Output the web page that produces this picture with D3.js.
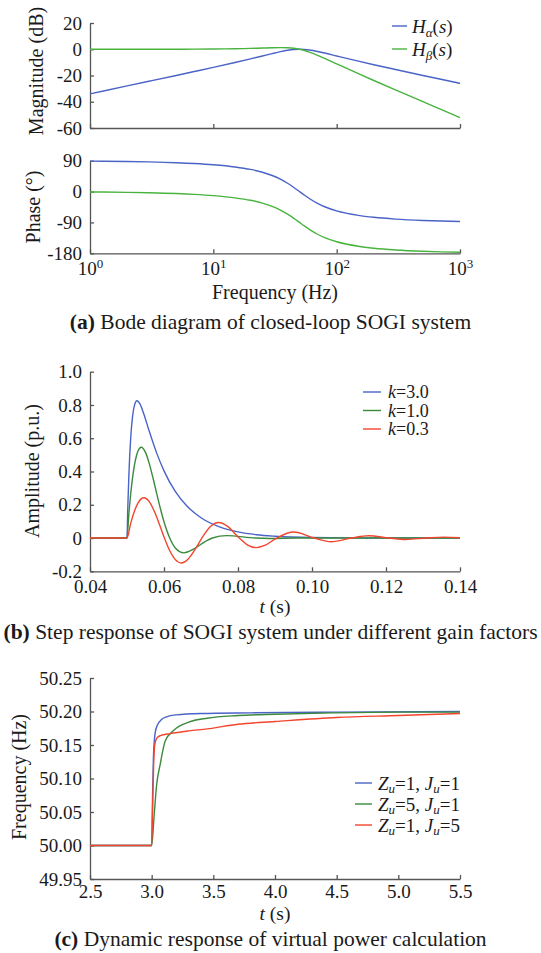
<!DOCTYPE html>
<html><head><meta charset="utf-8">
<script src="https://cdn.jsdelivr.net/npm/d3@7"></script>
<style>
body{margin:0;background:#fff}
#chart, #chart text{font-family:"Liberation Serif","Tinos","Nimbus Roman","Times New Roman","DejaVu Serif",serif;fill:#1a1a1a}
</style>
</head><body>
<svg id="chart" width="541" height="953"></svg>
<script>
// ---------- (a) Bode data ----------
const bodeFreq = [1,2,3,5,7,10,15,20,25,30,35,40,45,50,55,60,70,80,100,150,200,300,500,700,1000];
const magAlpha = [-33.98,-27.95,-24.42,-19.96,-16.99,-13.81,-10.09,-7.33,-5.12,-3.30,-1.85,-0.80,-0.19,0,-0.16,-0.55,-1.67,-2.90,-5.12,-9.09,-11.78,-15.44,-19.96,-22.90,-26.01];
const magBeta = [0.00,0.01,0.02,0.04,0.08,0.17,0.37,0.63,0.90,1.14,1.25,1.14,0.73,0,-0.98,-2.13,-4.60,-6.99,-11.14,-18.63,-23.82,-31.01,-39.96,-45.82,-52.03];
const phaseAlpha = [88.85,87.71,86.55,84.23,81.87,78.23,71.75,64.54,56.31,46.85,36.08,24.23,11.92,0,-10.81,-20.14,-34.44,-44.27,-56.31,-69.44,-75.07,-80.27,-84.23,-85.89,-87.13];
const phaseBeta = [-1.15,-2.29,-3.45,-5.77,-8.13,-11.77,-18.25,-25.46,-33.69,-43.15,-53.92,-65.77,-78.08,-90,-100.81,-110.14,-124.44,-134.27,-146.31,-159.44,-165.07,-170.27,-174.23,-175.89,-177.13];
const magTicks = [20,0,-20,-40,-60];
const magTickLabels = ["20","0","-20","-40","-60"];
const phaseTicks = [90,0,-90,-180];
const phaseTickLabels = ["90","0","-90","-180"];
const bodeXTicks = [1,10,100,1000];
const bodeXExp = ["0","1","2","3"];

// ---------- (b) step response data ----------
const tK30 = [0.04,0.05,0.0502,0.0505,0.051,0.0515,0.052,0.0527,0.0535,0.0545,0.056,0.058,0.060,0.063,0.066,0.070,0.075,0.080,0.085,0.090,0.100,0.110,0.120,0.140];
const yK30 = [0,0,0.172,0.374,0.601,0.730,0.796,0.825,0.806,0.749,0.643,0.512,0.404,0.282,0.197,0.122,0.067,0.037,0.020,0.011,0.003,0.001,0,0];
const tK10 = [0.04,0.05,0.0505,0.051,0.0515,0.052,0.0525,0.053,0.05385,0.055,0.056,0.057,0.058,0.059,0.060,0.06155,0.063,0.0654,0.068,0.071,0.07309,0.07694,0.08464,0.08849,0.0962,0.14];
const yK10 = [0,0,0.145,0.265,0.362,0.437,0.490,0.525,0.546,0.515,0.449,0.363,0.270,0.179,0.098,0,-0.058,-0.089,-0.067,-0.023,0,0.0145,0,-0.0024,0,0];
const tK03 = [0.04,0.05,0.051,0.052,0.053,0.05457,0.056,0.0575,0.059,0.06012,0.0615,0.063,0.06469,0.0665,0.0685,0.07023,0.0725,0.0748,0.077,0.08034,0.0825,0.08492,0.0872,0.09046,0.09503,0.1006,0.1052,0.1107,0.1153,0.1208,0.1254,0.1309,0.1355,0.14];
const yK03 = [0,0,0.0885,0.1607,0.2115,0.2419,0.2190,0.1547,0.0675,0,-0.0736,-0.1284,-0.1500,-0.1278,-0.0652,0,0.0681,0.0932,0.0732,0,-0.0407,-0.0579,-0.0446,0,0.0359,0,-0.0223,0,0.0138,0,-0.0086,0,0.0053,0.0014];
const stepYTicks = [1.0,0.8,0.6,0.4,0.2,0,-0.2];
const stepYLabels = ["1.0","0.8","0.6","0.4","0.2","0","-0.2"];
const stepXTicks = [0.04,0.06,0.08,0.10,0.12,0.14];
const stepXLabels = ["0.04","0.06","0.08","0.10","0.12","0.14"];

// ---------- (c) frequency response data ----------
const tZ1J1 = [2.5,3.0,3.008,3.016,3.03,3.05,3.08,3.12,3.2,3.4,3.8,4.5,5.5];
const fZ1J1 = [50.00,50.00,50.08,50.14,50.170,50.181,50.188,50.192,50.195,50.197,50.198,50.199,50.200];
const tZ5J1 = [2.5,3.0,3.02,3.04,3.07,3.11,3.18,3.3,3.45,3.7,4.0,4.5,5.0,5.5];
const fZ5J1 = [50.00,50.00,50.045,50.09,50.122,50.156,50.172,50.184,50.190,50.194,50.196,50.198,50.199,50.199];
const tZ1J5 = [2.5,3.0,3.008,3.016,3.025,3.04,3.07,3.15,3.3,3.45,3.7,4.0,4.5,5.0,5.5];
const fZ1J5 = [50.00,50.00,50.06,50.12,50.150,50.160,50.164,50.167,50.171,50.174,50.181,50.185,50.191,50.194,50.197];
const freqYTicks = [50.25,50.20,50.15,50.10,50.05,50.00,49.95];
const freqYLabels = ["50.25","50.20","50.15","50.10","50.05","50.00","49.95"];
const freqXTicks = [2.5,3.0,3.5,4.0,4.5,5.0,5.5];
const freqXLabels = ["2.5","3.0","3.5","4.0","4.5","5.0","5.5"];

// ---------- styling ----------
const FONT = "'Liberation Serif','Tinos','Nimbus Roman','Times New Roman','DejaVu Serif',serif";
const BLUE = "#4a63c6", GREEN_A = "#48b43e", GREEN = "#3b8a3b", RED = "#f2452e";
const AX = "#555";
const svg = d3.select("#chart").attr("font-family", FONT);
const X0 = 90, X1 = 460;

function styleAxis(g){
  g.attr("font-family", FONT);
  g.select(".domain").attr("stroke", AX).attr("stroke-width", 1.3);
  g.selectAll(".tick line").attr("stroke", AX).attr("stroke-width", 1.3);
  g.selectAll(".tick text").attr("font-size", 19).attr("fill", "#1a1a1a").attr("font-family", FONT);
}
function yAxis(y, vals, labels){
  const g = svg.append("g").attr("transform", `translate(${X0},0)`)
    .call(d3.axisLeft(y).tickValues(vals).tickFormat((d,i)=>labels[i])
      .tickSizeInner(-4).tickSizeOuter(0).tickPadding(8));
  styleAxis(g); return g;
}
function xAxis(x, yPos, vals, labels, pad){
  const g = svg.append("g").attr("transform", `translate(0,${yPos})`)
    .call(d3.axisBottom(x).tickValues(vals).tickFormat(labels ? (d,i)=>labels[i] : "")
      .tickSizeInner(-4).tickSizeOuter(0).tickPadding(pad || 8));
  styleAxis(g); return g;
}
function curve(xs, ys, x, y, color){
  const pts = xs.map((t,i)=>[x(t), y(ys[i])]);
  svg.append("path").datum(pts)
    .attr("d", d3.line().curve(d3.curveMonotoneX))
    .attr("fill","none").attr("stroke", color).attr("stroke-width", 1.4)
    .attr("stroke-linejoin","round");
}
function yTitle(txt, cx, cy){
  svg.append("text").attr("transform", `translate(${cx},${cy}) rotate(-90)`)
    .attr("text-anchor","middle").attr("font-size", 20).text(txt);
}
function legendLine(x1, x2, yy, color){
  svg.append("line").attr("x1", x1).attr("x2", x2).attr("y1", yy).attr("y2", yy)
    .attr("stroke", color).attr("stroke-width", 1.4);
}

// ---------- (a) magnitude ----------
const xBode = d3.scaleLog().domain([1,1000]).range([X0, X1]);
const yMag = d3.scaleLinear().domain([-60,20]).range([128,23]);
yAxis(yMag, magTicks, magTickLabels);
xAxis(xBode, 128, bodeXTicks, null);
curve(bodeFreq, magAlpha, xBode, yMag, BLUE);
curve(bodeFreq, magBeta, xBode, yMag, GREEN_A);
yTitle("Magnitude (dB)", 43, 71);

const legA = [{sym:"α", c:BLUE, y:26},{sym:"β", c:GREEN_A, y:49}];
legA.forEach(d=>{
  legendLine(392, 407, d.y, d.c);
  const t = svg.append("text").attr("x", 412).attr("y", d.y+6.5).attr("font-size", 19);
  t.append("tspan").attr("font-style","italic").text("H");
  t.append("tspan").attr("font-style","italic").attr("font-size", 13).attr("dy", 4).text(d.sym);
  t.append("tspan").attr("dy", -4).text("(");
  t.append("tspan").attr("font-style","italic").text("s");
  t.append("tspan").text(")");
});

// ---------- (a) phase ----------
const yPh = d3.scaleLinear().domain([-180,90]).range([253.3,160.7]);
yAxis(yPh, phaseTicks, phaseTickLabels);
const gx = xAxis(xBode, 253.3, bodeXTicks, bodeXTicks.map(()=>""));
gx.selectAll(".tick text").each(function(d,i){
  const t = d3.select(this);
  t.text("10");
  t.append("tspan").attr("font-size", 13).attr("dy", "-0.55em").text(bodeXExp[i]);
});
curve(bodeFreq, phaseAlpha, xBode, yPh, BLUE);
curve(bodeFreq, phaseBeta, xBode, yPh, GREEN_A);
yTitle("Phase (°)", 40, 207);
svg.append("text").attr("x", 275).attr("y", 299).attr("text-anchor","middle")
  .attr("font-size", 20).text("Frequency (Hz)");

function caption(letter, rest, yy){
  const t = svg.append("text").attr("x", 270.5).attr("y", yy).attr("text-anchor","middle").attr("font-size", 21.5);
  t.append("tspan").attr("font-weight","bold").text("(" + letter + ")");
  t.append("tspan").text(" " + rest);
}
caption("a", "Bode diagram of closed-loop SOGI system", 329);

// ---------- (b) step response ----------
const xStep = d3.scaleLinear().domain([0.04,0.14]).range([X0, X1]);
const yStep = d3.scaleLinear().domain([-0.2,1.0]).range([571.3,371.7]);
yAxis(yStep, stepYTicks, stepYLabels);
xAxis(xStep, 571.3, stepXTicks, stepXLabels);
curve(tK30, yK30, xStep, yStep, BLUE);
curve(tK10, yK10, xStep, yStep, GREEN);
curve(tK03, yK03, xStep, yStep, RED);
yTitle("Amplitude (p.u.)", 39, 471);
function tLabel(yy){
  const t = svg.append("text").attr("x", 275).attr("y", yy).attr("text-anchor","middle").attr("font-size", 19.5);
  t.append("tspan").attr("font-style","italic").text("t");
  t.append("tspan").text(" (s)");
}
tLabel(613);
const legB = [{v:"3.0", c:BLUE, y:392},{v:"1.0", c:GREEN, y:410.5},{v:"0.3", c:RED, y:429}];
legB.forEach(d=>{
  legendLine(363, 381, d.y, d.c);
  const t = svg.append("text").attr("x", 388).attr("y", d.y+6).attr("font-size", 18);
  t.append("tspan").attr("font-style","italic").text("k");
  t.append("tspan").text("=" + d.v);
});
caption("b", "Step response of SOGI system under different gain factors", 639);

// ---------- (c) frequency ----------
const xFr = d3.scaleLinear().domain([2.5,5.5]).range([X0, X1]);
const yFr = d3.scaleLinear().domain([49.95,50.25]).range([879,678]);
yAxis(yFr, freqYTicks, freqYLabels);
xAxis(xFr, 879, freqXTicks, freqXLabels, 6);
curve(tZ1J1, fZ1J1, xFr, yFr, BLUE);
curve(tZ5J1, fZ5J1, xFr, yFr, GREEN);
curve(tZ1J5, fZ1J5, xFr, yFr, RED);
yTitle("Frequency (Hz)", 26, 777);
tLabel(920);
const legC = [{z:"1", j:"1", c:BLUE, y:783},{z:"5", j:"1", c:GREEN, y:804},{z:"1", j:"5", c:RED, y:825}];
legC.forEach(d=>{
  legendLine(355, 372, d.y, d.c);
  const t = svg.append("text").attr("x", 378).attr("y", d.y+6.5).attr("font-size", 19);
  t.append("tspan").attr("font-style","italic").text("Z");
  t.append("tspan").attr("font-style","italic").attr("font-size", 13).attr("dy", 3).text("u");
  t.append("tspan").attr("dy", -3).text("=" + d.z + ", ");
  t.append("tspan").attr("font-style","italic").text("J");
  t.append("tspan").attr("font-style","italic").attr("font-size", 13).attr("dy", 3).text("u");
  t.append("tspan").attr("dy", -3).text("=" + d.j);
});
caption("c", "Dynamic response of virtual power calculation", 946);
</script>
</body></html>
